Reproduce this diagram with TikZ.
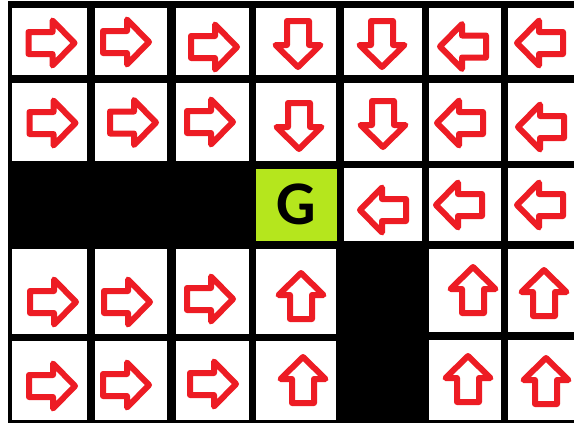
\documentclass[tikz,border=0pt]{standalone}
\usepackage{fontspec}
\setsansfont{Carlito}
\definecolor{arrowred}{HTML}{ED1C24}
\definecolor{goalgreen}{HTML}{B5E61D}
\tikzset{
  board/.style={fill=black},
  cellbox/.style={fill=white},
  goalbox/.style={fill=goalgreen, inner sep=0pt, minimum width=81pt, minimum height=72pt, font=\sffamily\bfseries\fontsize{62}{62}\selectfont},
  arrowline/.style={draw=arrowred, fill=white, line width=6pt, line join=round},
  pics/move/.style={code={\draw[arrowline] (-23,-11) -- (1,-11) -- (1,-22.5) -- (23,0) -- (1,22.5) -- (1,11) -- (-23,11) -- cycle;}},
}
\begin{document}
\begin{tikzpicture}[x=1pt, y=-1pt]
\useasboundingbox (0,0) rectangle (574,423);
\fill[white] (0,0) rectangle (574,423);
\fill[board] (8,1) rectangle (574,423);
\fill[cellbox] (12,8) rectangle (87,75); \pic at (51.5,43) {move};
\fill[cellbox] (95,8) rectangle (167,75); \pic at (126,42) {move};
\fill[cellbox] (176,8) rectangle (249,75); \pic at (214,47) {move};
\fill[cellbox] (256,8) rectangle (336,75); \pic[rotate=-90] at (298,44) {move};
\fill[cellbox] (344,8) rectangle (422,75); \pic[rotate=-90] at (382,44) {move};
\fill[cellbox] (429,8) rectangle (501,75); \pic[rotate=180] at (463,46.5) {move};
\fill[cellbox] (508,8) rectangle (574,75); \pic[rotate=180] at (540,43) {move};
\fill[cellbox] (12,83) rectangle (87,161); \pic at (52.5,123) {move};
\fill[cellbox] (95,83) rectangle (167,161); \pic at (133,122.5) {move};
\fill[cellbox] (176,83) rectangle (249,161); \pic at (210,122) {move};
\fill[cellbox] (256,83) rectangle (336,161); \pic[rotate=-90] at (299,126) {move};
\fill[cellbox] (344,83) rectangle (422,161); \pic[rotate=-90] at (383,124) {move};
\fill[cellbox] (429,83) rectangle (501,161); \pic[rotate=180] at (460,123) {move};
\fill[cellbox] (508,83) rectangle (574,161); \pic[rotate=180] at (541,127) {move};
\node[goalbox] (goal) at (296.5,204.5) {G};
\fill[cellbox] (344,168) rectangle (422,241); \pic[rotate=180] at (383,210) {move};
\fill[cellbox] (429,168) rectangle (501,241); \pic[rotate=180] at (459,205) {move};
\fill[cellbox] (508,168) rectangle (574,241); \pic[rotate=180] at (540,205) {move};
\fill[cellbox] (12,249) rectangle (87,334); \pic at (53,302) {move};
\fill[cellbox] (95,249) rectangle (167,334); \pic at (127,302) {move};
\fill[cellbox] (176,249) rectangle (249,334); \pic at (210,299) {move};
\fill[cellbox] (256,249) rectangle (336,334); \pic[rotate=90] at (301,296) {move};
\fill[cellbox] (429,249) rectangle (501,332); \pic[rotate=90] at (473,290) {move};
\fill[cellbox] (508,249) rectangle (574,332); \pic[rotate=90] at (544,293) {move};
\fill[cellbox] (12,341) rectangle (87,420); \pic at (52,386) {move};
\fill[cellbox] (95,341) rectangle (167,420); \pic at (126,385) {move};
\fill[cellbox] (176,341) rectangle (249,420); \pic at (213,384) {move};
\fill[cellbox] (256,341) rectangle (336,420); \pic[rotate=90] at (303,380) {move};
\fill[cellbox] (429,340) rectangle (501,420); \pic[rotate=90] at (468,379) {move};
\fill[cellbox] (508,340) rectangle (574,420); \pic[rotate=90] at (546,381) {move};
\end{tikzpicture}
\end{document}
